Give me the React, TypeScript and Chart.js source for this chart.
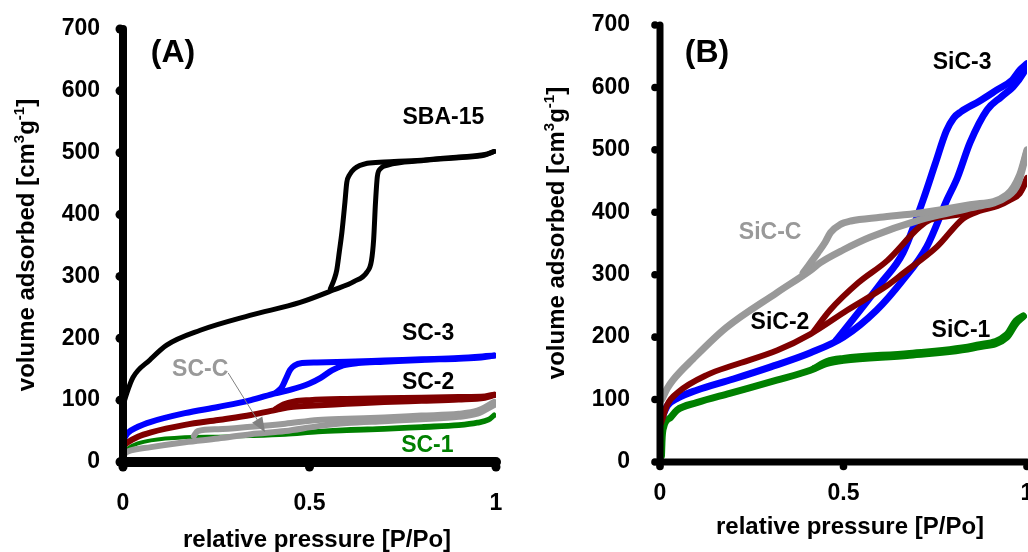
import React, { useEffect, useRef } from "react";
import { Chart, registerables } from "chart.js";

Chart.register(...registerables);

type P = [number, number];

// ---------- Panel A (SBA-15 / SC series) ----------
const SBA15_ADS: P[] = [[0.002,95],[0.01,111],[0.027,137],[0.072,165],[0.117,189],[0.207,213],[0.34,237],[0.475,258],[0.564,278],[0.62,292],[0.654,307],[0.666,325],[0.672,360],[0.677,420],[0.682,462],[0.69,474],[0.71,480],[0.8,487],[0.9,492],[0.97,496],[0.995,502]];
const SBA15_DES: P[] = [[0.556,280],[0.566,295],[0.573,310],[0.58,340],[0.587,372],[0.595,420],[0.6,452],[0.607,464],[0.62,474],[0.655,483],[0.7,485],[0.8,488],[0.9,493],[0.97,497],[0.995,502]];
const SC3_ADS: P[] = [[0.005,40],[0.013,47],[0.04,57],[0.075,65],[0.166,79],[0.255,89],[0.343,100],[0.408,111],[0.45,117],[0.5,127],[0.53,136],[0.56,148],[0.59,156],[0.63,160],[0.7,162],[0.8,165],[0.9,167],[0.96,169],[0.995,172]];
const SC3_DES: P[] = [[0.41,112],[0.425,120],[0.437,135],[0.448,149],[0.46,156],[0.48,160],[0.52,161],[0.6,162],[0.7,164],[0.8,166],[0.9,168],[0.995,172]];
const SC2_ADS: P[] = [[0.005,28],[0.013,32],[0.04,41],[0.075,48],[0.166,60],[0.255,68],[0.343,76],[0.416,85],[0.45,89],[0.5,91],[0.6,94],[0.7,97],[0.8,99],[0.9,101],[0.97,104],[0.995,108]];
const SC2_DES: P[] = [[0.41,86],[0.43,93],[0.46,98],[0.5,100],[0.6,102],[0.7,103],[0.8,104],[0.9,105],[0.97,106],[0.995,109]];
const SCC_ADS: P[] = [[0.005,14],[0.013,17],[0.075,24],[0.166,32],[0.255,38],[0.343,45],[0.435,50],[0.523,58],[0.6,63],[0.7,66],[0.8,69],[0.9,73],[0.95,78],[0.995,92]];
const SCC_DES: P[] = [[0.19,42],[0.2,50],[0.255,53],[0.343,57],[0.435,62],[0.523,68],[0.6,70],[0.7,72],[0.8,75],[0.9,78],[0.95,83],[0.995,97]];
const SC1_ADS: P[] = [[0.003,14],[0.013,22],[0.04,30],[0.075,35],[0.166,40],[0.255,41],[0.343,42],[0.435,44],[0.523,48],[0.6,50],[0.7,52],[0.8,55],[0.9,58],[0.95,62],[0.98,67],[0.995,74]];
const SC1_DES: P[] = [[0.45,46],[0.523,50],[0.6,53],[0.7,55],[0.8,58],[0.9,61],[0.95,65],[0.98,70],[0.995,77]];

// ---------- Panel B (SiC series) ----------
const SIC3_ADS: P[] = [[0.003,68],[0.02,90],[0.05,103],[0.1,115],[0.2,133],[0.3,152],[0.41,175],[0.5,200],[0.59,243],[0.66,290],[0.727,345],[0.782,420],[0.81,455],[0.845,512],[0.891,564],[0.93,585],[0.962,601],[0.99,623],[1.0,636]];
const SIC3_DES: P[] = [[0.48,195],[0.545,243],[0.6,285],[0.662,335],[0.717,420],[0.75,478],[0.78,530],[0.8,551],[0.82,561],[0.87,578],[0.918,596],[0.96,612],[0.981,628],[1.0,638]];
const SIC2_ADS: P[] = [[0.003,62],[0.02,92],[0.05,112],[0.13,140],[0.2,155],[0.32,179],[0.41,205],[0.51,243],[0.62,283],[0.662,302],[0.755,345],[0.826,390],[0.87,402],[0.92,410],[0.954,420],[0.98,430],[1.0,452]];
const SIC2_DES: P[] = [[0.42,210],[0.463,243],[0.54,287],[0.62,323],[0.708,377],[0.736,388],[0.8,395],[0.845,400],[0.9,410],[0.954,422],[0.98,432],[1.0,455]];
const SICC_ADS: P[] = [[0.005,100],[0.02,118],[0.035,131],[0.09,165],[0.18,215],[0.318,271],[0.41,307],[0.436,319],[0.5,340],[0.572,360],[0.708,388],[0.845,407],[0.945,425],[0.975,445],[1.0,498]];
const SICC_DES: P[] = [[0.39,303],[0.43,335],[0.45,352],[0.465,368],[0.49,380],[0.52,386],[0.6,392],[0.708,399],[0.845,412],[0.945,428],[0.98,460],[1.0,500]];
const SIC1_ADS: P[] = [[0.004,10],[0.006,40],[0.01,56],[0.03,72],[0.046,83],[0.1,95],[0.19,110],[0.318,131],[0.41,147],[0.455,158],[0.5,163],[0.68,171],[0.864,184],[0.945,200],[0.97,222],[0.99,233]];
const SIC1_DES: P[] = [[0.42,150],[0.455,161],[0.5,166],[0.68,174],[0.864,187],[0.945,204],[0.97,226],[0.99,234]];

// ---------- Axis ranges / text ----------
const X_MIN = 0, X_MAX = 1, X_STEP = 0.5;
const Y_MIN = 0, Y_MAX = 700, Y_STEP = 100;
const X_TITLE = "relative pressure [P/Po]";
const Y_TITLE_PARTS: [string, boolean][] = [["volume adsorbed [cm", false], ["3", true], ["g", false], ["-1", true], ["]", false]];

type Lbl = { text: string; x: number; y: number; color: string; size: number };
const LABELS_A: Lbl[] = [
  { text: "(A)", x: 0.134, y: 661, color: "#000", size: 32 },
  { text: "SBA-15", x: 0.859, y: 557, color: "#000", size: 23 },
  { text: "SC-3", x: 0.818, y: 208, color: "#000", size: 23 },
  { text: "SC-2", x: 0.818, y: 129, color: "#000", size: 23 },
  { text: "SC-C", x: 0.207, y: 149, color: "#999999", size: 23 },
  { text: "SC-1", x: 0.816, y: 27, color: "#008000", size: 23 },
];
const ARROW_A: { from: P; to: P } = { from: [0.282, 144], to: [0.381, 48] };
const LABELS_B: Lbl[] = [
  { text: "(B)", x: 0.128, y: 655, color: "#000", size: 32 },
  { text: "SiC-3", x: 0.823, y: 639, color: "#000", size: 23 },
  { text: "SiC-C", x: 0.3, y: 367, color: "#999999", size: 23 },
  { text: "SiC-2", x: 0.327, y: 224, color: "#000", size: 23 },
  { text: "SiC-1", x: 0.82, y: 211, color: "#000", size: 23 },
];

const FONT = "'Liberation Sans', Arial, Helvetica, sans-serif";
const BLACK = "#000000", BLUE = "#0000ff", RED = "#800000", GRAY = "#999999", GREEN = "#008000";

const ds = (data: P[], color: string, width: number) => ({
  data: data.map(([x, y]) => ({ x, y })),
  borderColor: color,
  backgroundColor: color,
  borderWidth: width,
  pointRadius: 0,
  pointHoverRadius: 0,
  fill: false,
  cubicInterpolationMode: "monotone" as const,
  borderCapStyle: "round" as const,
  borderJoinStyle: "round" as const,
});

type Geo = {
  padTop: number; padRight: number; yWidth: number; xHeight: number;
  xAxisW: number; yAxisW: number; xAxisLeftExt: number; yAxisBottomExt: number;
  yDotR: number; yDotOff: number; xDotR: number; xDotOff: number;
  xGap: number; yGap: number;
  yTitle: [number, number]; xTitle: [number, number];
};

function overlay(labels: Lbl[], geo: Geo, arrow?: { from: P; to: P }) {
  return {
    id: "overlay",
    afterDraw(chart: any) {
      const { ctx, chartArea: ca } = chart;
      const xs = chart.scales.x, ys = chart.scales.y;
      ctx.save();
      // axes
      ctx.strokeStyle = "#000";
      ctx.fillStyle = "#000";
      ctx.lineCap = "round";
      ctx.lineWidth = geo.yAxisW;
      ctx.beginPath();
      ctx.moveTo(ca.left, ys.getPixelForValue(Y_MAX));
      ctx.lineTo(ca.left, ys.getPixelForValue(Y_MIN) + geo.yAxisBottomExt);
      ctx.stroke();
      ctx.lineWidth = geo.xAxisW;
      ctx.beginPath();
      ctx.moveTo(ca.left - geo.xAxisLeftExt, ys.getPixelForValue(Y_MIN));
      ctx.lineTo(xs.getPixelForValue(X_MAX), ys.getPixelForValue(Y_MIN));
      ctx.stroke();
      for (const t of ys.ticks) {
        const py = ys.getPixelForValue(t.value);
        ctx.beginPath();
        ctx.arc(ca.left - geo.yDotOff, py, geo.yDotR, 0, Math.PI * 2);
        ctx.fill();
      }
      for (const t of xs.ticks) {
        const px = xs.getPixelForValue(t.value);
        ctx.beginPath();
        ctx.arc(px, ys.getPixelForValue(Y_MIN) + geo.xDotOff, geo.xDotR, 0, Math.PI * 2);
        ctx.fill();
      }
      // series labels
      for (const l of labels) {
        ctx.font = `bold ${l.size}px ${FONT}`;
        ctx.fillStyle = l.color;
        ctx.textAlign = "center";
        ctx.textBaseline = "middle";
        ctx.fillText(l.text, xs.getPixelForValue(l.x), ys.getPixelForValue(l.y));
      }
      // arrow
      if (arrow) {
        const x1 = xs.getPixelForValue(arrow.from[0]), y1 = ys.getPixelForValue(arrow.from[1]);
        const x2 = xs.getPixelForValue(arrow.to[0]), y2 = ys.getPixelForValue(arrow.to[1]);
        const len = Math.hypot(x2 - x1, y2 - y1);
        const dx = (x2 - x1) / len, dy = (y2 - y1) / len;
        ctx.strokeStyle = "#808080";
        ctx.lineWidth = 1;
        ctx.lineCap = "butt";
        ctx.beginPath();
        ctx.moveTo(x1, y1);
        ctx.lineTo(x2 - dx * 10, y2 - dy * 10);
        ctx.stroke();
        ctx.fillStyle = "#808080";
        const bx = x2 - dx * 15, by = y2 - dy * 15;
        ctx.beginPath();
        ctx.moveTo(x2, y2);
        ctx.lineTo(bx + dy * 6, by - dx * 6);
        ctx.lineTo(bx - dy * 6, by + dx * 6);
        ctx.closePath();
        ctx.fill();
      }
      // x title
      ctx.fillStyle = "#000";
      ctx.font = `bold 24px ${FONT}`;
      ctx.textAlign = "center";
      ctx.textBaseline = "middle";
      ctx.fillText(X_TITLE, geo.xTitle[0], geo.xTitle[1]);
      // y title with superscripts
      ctx.translate(geo.yTitle[0], geo.yTitle[1]);
      ctx.rotate(-Math.PI / 2);
      ctx.textAlign = "left";
      ctx.textBaseline = "alphabetic";
      const big = `bold 24px ${FONT}`, small = `bold 15px ${FONT}`;
      let total = 0;
      for (const [t, sup] of Y_TITLE_PARTS) {
        ctx.font = sup ? small : big;
        total += ctx.measureText(t).width;
      }
      let cx = -total / 2;
      for (const [t, sup] of Y_TITLE_PARTS) {
        ctx.font = sup ? small : big;
        ctx.fillText(t, cx, sup ? -1 : 8.5);
        cx += ctx.measureText(t).width;
      }
      ctx.restore();
    },
  };
}

const TICK_PAD = 4;

function makeConfig(datasets: any[], labels: Lbl[], geo: Geo, arrow?: { from: P; to: P }) {
  const tickFont = { size: 23, weight: "bold" as const, family: FONT };
  return {
    type: "line" as const,
    data: { datasets },
    options: {
      responsive: false,
      animation: false as const,
      events: [],
      layout: { padding: { left: 0, top: geo.padTop, right: geo.padRight, bottom: 0 } },
      plugins: { legend: { display: false }, tooltip: { enabled: false }, title: { display: false } },
      scales: {
        x: {
          type: "linear" as const,
          min: X_MIN, max: X_MAX,
          ticks: {
            stepSize: X_STEP, font: tickFont, color: "#000", padding: TICK_PAD,
            maxRotation: 0, autoSkip: false,
            callback: (v: any) => String(v),
          },
          grid: { display: true, drawOnChartArea: false, drawTicks: true, tickLength: geo.xGap - TICK_PAD, tickColor: "rgba(0,0,0,0)", color: "rgba(0,0,0,0)" },
          border: { display: false },
          afterFit: (s: any) => { s.height = geo.xHeight; },
        },
        y: {
          type: "linear" as const,
          min: Y_MIN, max: Y_MAX,
          ticks: { stepSize: Y_STEP, font: tickFont, color: "#000", padding: TICK_PAD, callback: (v: any) => String(v) },
          grid: { display: true, drawOnChartArea: false, drawTicks: true, tickLength: geo.yGap - TICK_PAD, tickColor: "rgba(0,0,0,0)", color: "rgba(0,0,0,0)" },
          border: { display: false },
          afterFit: (s: any) => { s.width = geo.yWidth; },
        },
      },
    },
    plugins: [overlay(labels, geo, arrow)],
  };
}

const GEO_A: Geo = {
  padTop: 29, padRight: 18, yWidth: 123, xHeight: 90,
  xAxisW: 10, yAxisW: 8, xAxisLeftExt: 2, yAxisBottomExt: 4,
  yDotR: 4.5, yDotOff: 3, xDotR: 4.5, xDotOff: 5,
  xGap: 28, yGap: 23,
  yTitle: [25, 245], xTitle: [317, 540],
};
const GEO_B: Geo = {
  padTop: 25, padRight: 47, yWidth: 146, xHeight: 90,
  xAxisW: 7, yAxisW: 7, xAxisLeftExt: 2, yAxisBottomExt: 3,
  yDotR: 3.8, yDotOff: 5, xDotR: 3.8, xDotOff: 4.5,
  xGap: 18, yGap: 30,
  yTitle: [41, 233], xTitle: [336, 527],
};

export default function App() {
  const refA = useRef<HTMLCanvasElement | null>(null);
  const refB = useRef<HTMLCanvasElement | null>(null);

  useEffect(() => {
    const dsA = [
      ds(SCC_DES, GRAY, 6), ds(SCC_ADS, GRAY, 6),
      ds(SC2_DES, RED, 6), ds(SC2_ADS, RED, 6),
      ds(SC3_DES, BLUE, 6), ds(SC3_ADS, BLUE, 6),
      ds(SC1_DES, GREEN, 4), ds(SC1_ADS, GREEN, 4),
      ds(SBA15_DES, BLACK, 5), ds(SBA15_ADS, BLACK, 5),
    ];
    const dsB = [
      ds(SICC_DES, GRAY, 7), ds(SICC_ADS, GRAY, 7),
      ds(SIC2_DES, RED, 6), ds(SIC2_ADS, RED, 6),
      ds(SIC3_DES, BLUE, 7), ds(SIC3_ADS, BLUE, 7),
      ds(SIC1_DES, GREEN, 7), ds(SIC1_ADS, GREEN, 7),
    ];
    const a = new Chart(refA.current as HTMLCanvasElement, makeConfig(dsA, LABELS_A, GEO_A, ARROW_A) as any);
    const b = new Chart(refB.current as HTMLCanvasElement, makeConfig(dsB, LABELS_B, GEO_B) as any);
    return () => { a.destroy(); b.destroy(); };
  }, []);

  return (
    <div style={{ position: "fixed", left: 0, top: 0, width: 1028, height: 552, overflow: "hidden", background: "#fff" }}>
      <canvas ref={refA} width={514} height={552} style={{ position: "absolute", left: 0, top: 0, width: 514, height: 552 }} />
      <canvas ref={refB} width={560} height={552} style={{ position: "absolute", left: 514, top: 0, width: 560, height: 552 }} />
    </div>
  );
}
